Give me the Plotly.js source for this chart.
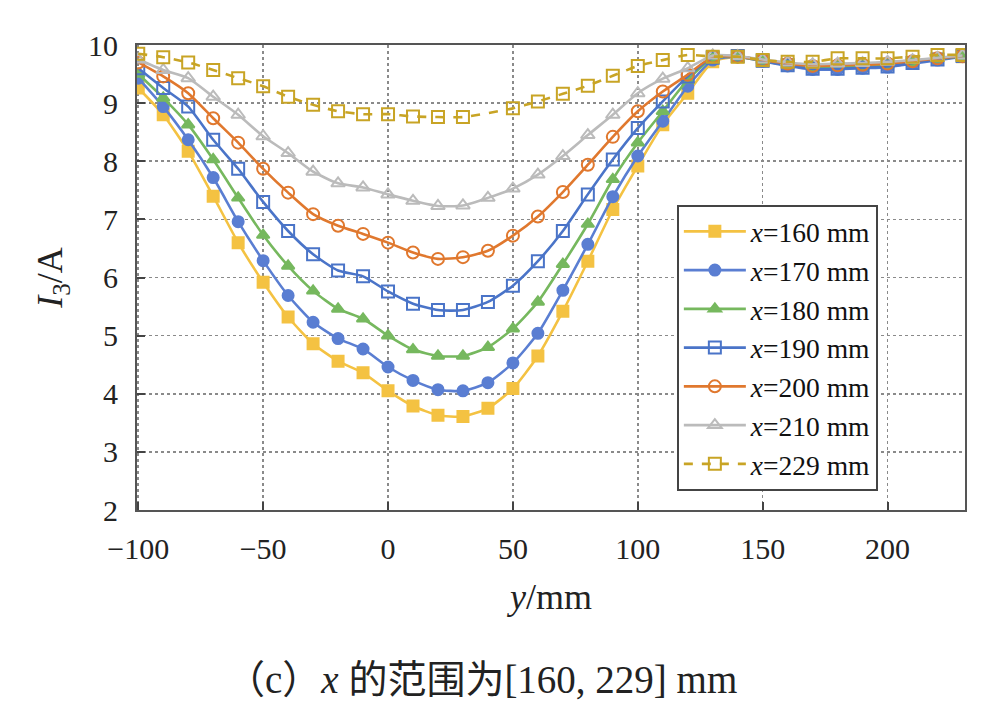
<!DOCTYPE html>
<html>
<head>
<meta charset="utf-8">
<script src="https://cdn.plot.ly/plotly-3.0.1.min.js"></script>
<style>html,body{margin:0;padding:0;background:#fff;}#chart{width:996px;height:706px;}</style>
</head>
<body>
<div id="chart"></div>
<script>
// y position (mm)
const yPos = [-100,-90,-80,-70,-60,-50,-40,-30,-20,-10,0,10,20,30,40,50,60,70,80,90,100,110,120,130,140,150,160,170,180,190,200,210,220,230];

const seriesNames = ['x=160 mm','x=170 mm','x=180 mm','x=190 mm','x=200 mm','x=210 mm','x=229 mm'];

const I160 = [9.26,8.80,8.17,7.40,6.60,5.92,5.32,4.86,4.56,4.36,4.05,3.79,3.63,3.61,3.75,4.09,4.65,5.42,6.28,7.17,7.92,8.63,9.17,9.71,9.80,9.72,9.66,9.62,9.63,9.64,9.66,9.70,9.76,9.80];
const I170 = [9.43,8.94,8.37,7.72,6.96,6.29,5.69,5.23,4.95,4.77,4.46,4.23,4.07,4.05,4.19,4.53,5.04,5.78,6.57,7.39,8.09,8.69,9.29,9.74,9.80,9.72,9.64,9.58,9.58,9.60,9.62,9.68,9.74,9.80];
const I180 = [9.50,9.09,8.63,8.03,7.37,6.73,6.20,5.77,5.46,5.29,5.00,4.76,4.65,4.65,4.80,5.12,5.58,6.23,6.92,7.69,8.32,8.86,9.40,9.77,9.80,9.73,9.66,9.61,9.62,9.63,9.65,9.70,9.76,9.80];
const I190 = [9.60,9.26,8.94,8.37,7.87,7.30,6.80,6.40,6.12,6.02,5.76,5.55,5.44,5.44,5.58,5.86,6.28,6.80,7.43,8.03,8.57,9.03,9.46,9.78,9.81,9.73,9.65,9.59,9.59,9.61,9.63,9.69,9.75,9.81];
const I200 = [9.70,9.46,9.17,8.74,8.32,7.87,7.46,7.09,6.89,6.75,6.60,6.43,6.32,6.35,6.46,6.72,7.05,7.47,7.94,8.42,8.86,9.20,9.49,9.80,9.80,9.74,9.68,9.64,9.65,9.66,9.68,9.72,9.77,9.81];
const I210 = [9.75,9.57,9.43,9.11,8.80,8.43,8.14,7.82,7.62,7.55,7.43,7.32,7.23,7.24,7.37,7.53,7.77,8.09,8.45,8.80,9.17,9.42,9.60,9.82,9.81,9.75,9.70,9.67,9.68,9.69,9.71,9.74,9.78,9.82];
const I229 = [9.85,9.79,9.70,9.57,9.43,9.29,9.11,8.97,8.86,8.81,8.81,8.77,8.76,8.76,null,8.91,9.03,9.16,9.30,9.47,9.64,9.74,9.83,9.80,9.80,9.74,9.71,9.71,9.77,9.77,9.77,9.80,9.83,9.83];

const xTicks = [-100,-50,0,50,100,150,200];
const yTicks = [2,3,4,5,6,7,8,9,10];

const allSeries = [I160,I170,I180,I190,I200,I210,I229];
const colors = ['#F4C242','#5A7ED2','#76B85E','#4A74C8','#E0782E','#BBBBBB','#C8A425'];
const symbols = ['square','circle','triangle-up','square-open','circle-open','triangle-up-open','square-open'];
const dashes = ['solid','solid','solid','solid','solid','solid','dash'];

const traces = allSeries.map((vals,i)=>({
  x: yPos, y: vals, type:'scatter', mode:'lines+markers',
  name: '<i>x</i>' + seriesNames[i].slice(1),
  connectgaps: true,
  line:{color:colors[i], width:2.6, dash:dashes[i], shape:'spline', smoothing:0.6},
  marker:{symbol:symbols[i], size: symbols[i].indexOf('open')>=0 ? 12 : 11, color:colors[i], line:{color:colors[i], width:2}}
}));

const serif = '"Liberation Serif", "Times New Roman", serif';

const layout = {
  width:996, height:706,
  margin:{l:137, r:31, t:45, b:196},
  paper_bgcolor:'#fff', plot_bgcolor:'#fff',
  font:{family:serif, size:30, color:'#222'},
  showlegend:true,
  legend:{x:0.652, y:0.656, xanchor:'left', yanchor:'top', bgcolor:'#fff', bordercolor:'#444', borderwidth:2,
          font:{family:serif, size:27.5, color:'#111'}, itemwidth:62, tracegroupgap:0},
  xaxis:{range:[-100.5,231], tickvals:xTicks, ticktext:xTicks.map(v=>v<0?'\u2212'+Math.abs(v):String(v)),
         tickfont:{family:serif, size:30, color:'#222'},
         showgrid:true, gridcolor:'#8a8a8a', griddash:'dot', gridwidth:1.6,
         showline:true, linecolor:'#555', linewidth:2, mirror:true,
         ticks:'inside', ticklen:8, tickwidth:2, tickcolor:'#444',
         zeroline:false, ticklabelstandoff:11,
         title:{text:'<i>y</i>/mm', font:{family:serif, size:36, color:'#222'}, standoff:20}},
  yaxis:{range:[2,10], tickvals:yTicks,
         tickfont:{family:serif, size:30, color:'#222'},
         showgrid:true, gridcolor:'#8a8a8a', griddash:'dot', gridwidth:1.6,
         showline:true, linecolor:'#555', linewidth:2, mirror:true,
         ticks:'inside', ticklen:8, tickwidth:2, tickcolor:'#444',
         zeroline:false, ticklabelstandoff:11,
         title:{text:'<i>I</i><sub>3</sub>/A', font:{family:serif, size:36, color:'#222'}, standoff:14}},
  annotations:[{
    xref:'paper', yref:'paper', x:0.416, y:-0.365, xanchor:'center', yanchor:'middle', showarrow:false,
    text:'（c）<i>x</i> 的范围为[160, 229] mm',
    font:{family:'"Liberation Serif", "Noto Sans CJK SC", serif', size:39, color:'#222'}
  }]
};

Plotly.newPlot('chart', traces, layout, {displayModeBar:false, staticPlot:true});
</script>
</body>
</html>
